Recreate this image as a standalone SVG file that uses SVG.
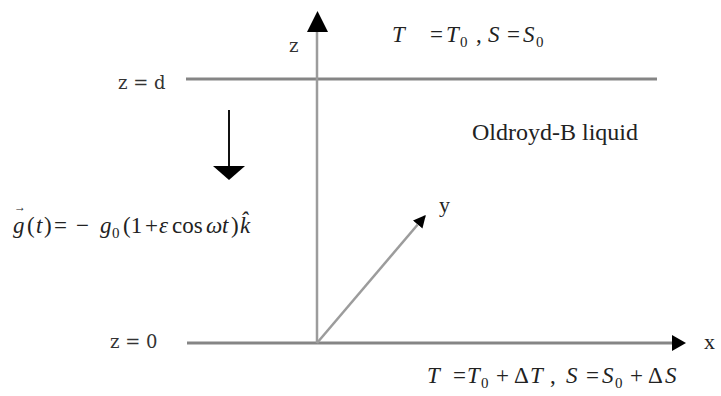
<svg xmlns="http://www.w3.org/2000/svg" width="721" height="396" viewBox="0 0 721 396">
<defs>
<style>
.ax{stroke:#858585;stroke-width:3;fill:none}
.ax2{stroke:#9c9c9c;stroke-width:2.5;fill:none}
.lbl{font-family:"DejaVu Serif","Liberation Serif",serif;font-size:18px;fill:#333}
.lbl2{font-family:"Liberation Serif","Times New Roman",serif;font-size:22px;fill:#222}
.eq{font-family:"Liberation Serif","Times New Roman",serif;font-size:23px;fill:#222}
.big{font-size:24px}
.it{font-style:italic}
.sub{font-size:15px}
.acc{font-size:12px}
.head{fill:#000}
</style>
<marker id="ahY" viewBox="0 0 10 10" refX="9" refY="5" markerWidth="5" markerHeight="5" orient="auto" markerUnits="strokeWidth">
<path d="M0,0 L10,5 L0,10 z" class="head"/>
</marker>
</defs>
<rect width="721" height="396" fill="#fff"/>
<g id="connectors">
<line id="plate-top" class="ax" x1="186" y1="79" x2="657" y2="79"/>
<line id="plate-bottom" class="ax" x1="187" y1="343" x2="674" y2="343"/>
<polygon class="head" points="672,335 686,343 672,351"/>
<line id="z-axis" class="ax2" x1="317" y1="343" x2="317" y2="30"/>
<polygon class="head" points="307,32 328,32 317.5,11"/>
<line id="y-axis" class="ax2" x1="317" y1="343" x2="425" y2="216" marker-end="url(#ahY)"/>
<line id="gravity" stroke="#111" stroke-width="2" x1="229" y1="110" x2="229" y2="167"/>
<polygon class="head" points="213,166 245,166 229,180"/>
</g>
<g id="label-z"><text class="lbl" x="289" y="52">z</text></g>
<g id="label-zd"><text class="lbl" x="118" y="89">z = d</text></g>
<g id="label-z0"><text class="lbl" x="110" y="348">z = 0</text></g>
<g id="label-x"><text class="lbl2" x="704" y="349">x</text></g>
<g id="label-y"><text class="lbl2" x="439" y="212">y</text></g>
<g id="top-bc"><text class="eq" y="42"><tspan class="it" x="392">T</tspan><tspan x="430">=</tspan><tspan class="it" x="446">T</tspan><tspan class="sub" x="460" y="47">0</tspan><tspan x="476" y="42">,</tspan><tspan class="it" x="488">S</tspan><tspan x="507">=</tspan><tspan class="it" x="523">S</tspan><tspan class="sub" x="536" y="47">0</tspan></text></g>
<g id="bottom-bc"><text class="eq" y="383"><tspan class="it" x="427">T</tspan><tspan x="453">=</tspan><tspan class="it" x="467">T</tspan><tspan class="sub" x="481" y="388">0</tspan><tspan x="496" y="383">+</tspan><tspan x="514">Δ</tspan><tspan class="it" x="530">T</tspan><tspan x="550">,</tspan><tspan class="it" x="566">S</tspan><tspan x="586">=</tspan><tspan class="it" x="602">S</tspan><tspan class="sub" x="615" y="388">0</tspan><tspan x="630" y="383">+</tspan><tspan x="648">Δ</tspan><tspan class="it" x="665">S</tspan></text></g>
<g id="liquid"><text class="eq big" x="472" y="140">Oldroyd-B liquid</text></g>
<g id="gravity-eq"><text class="eq" y="233"><tspan class="acc" x="14" y="211">→</tspan><tspan class="it" x="13" y="233">g</tspan><tspan x="27">(</tspan><tspan class="it" x="36">t</tspan><tspan x="44">)</tspan><tspan x="54">=</tspan><tspan x="76">−</tspan><tspan class="it" x="100">g</tspan><tspan class="sub" x="112" y="238">0</tspan><tspan x="123" y="233">(1</tspan><tspan x="145">+</tspan><tspan class="it" x="159">ε</tspan><tspan x="172">cos</tspan><tspan class="it" x="206">ω</tspan><tspan class="it" x="222">t</tspan><tspan x="231">)</tspan><tspan class="it" x="240">k̂</tspan></text></g>
</svg>
